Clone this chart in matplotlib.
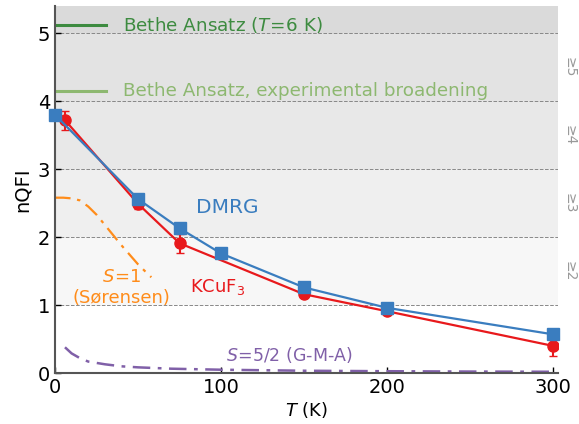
import numpy as np
import matplotlib.pyplot as plt

# DMRG
T_dmrg = [0, 50, 75, 100, 150, 200, 300]
nqfi_dmrg = [3.80, 2.56, 2.13, 1.76, 1.26, 0.96, 0.57]

# KCuF3 experiment
T_exp = [6, 50, 75, 150, 200, 300]
nqfi_exp = [3.72, 2.49, 1.91, 1.16, 0.91, 0.40]
err_exp = [0.14, 0.07, 0.14, 0.03, 0.03, 0.15]

# S=1 (Sorensen)
T_s1 = [0, 5, 10, 15, 20, 25, 30, 35, 40, 45, 50, 55, 58]
nqfi_s1 = [2.58, 2.58, 2.57, 2.54, 2.45, 2.33, 2.18, 2.03, 1.88, 1.74, 1.60, 1.48, 1.41]

# S=5/2 (G-M-A)
T_s52 = [6, 10, 15, 20, 30, 40, 50, 70, 100, 150, 200, 250, 300]
nqfi_s52 = [0.38, 0.29, 0.22, 0.17, 0.13, 0.10, 0.085, 0.065, 0.05, 0.035, 0.028, 0.023, 0.02]

# Bethe Ansatz levels
ba_6K = 5.12
ba_broad = 4.15

band_edges = [1, 2, 3, 4, 5, 5.4]
band_colors = ['#f7f7f7', '#efefef', '#e8e8e8', '#e3e3e3', '#dadada']
band_labels = ['≥2', '≥3', '≥4', '≥5']

fig, ax = plt.subplots(figsize=(5.79, 4.24), dpi=100)
fig.subplots_adjust(left=0.095, right=0.964, bottom=0.12, top=0.986)

for lo, hi, c in zip(band_edges[:-1], band_edges[1:], band_colors):
    ax.axhspan(lo, hi, color=c, lw=0, zorder=0)
for y in band_edges[:-1]:
    ax.axhline(y, color='#888888', ls='--', lw=0.7, zorder=1)
for lo, hi, lab in zip(band_edges[:-2], band_edges[1:-1], band_labels):
    ax.text(1.008, (lo + hi) / 2, lab, transform=ax.get_yaxis_transform(),
            rotation=-90, ha='left', va='center', fontsize=10, color='#999999')

ax.plot(T_s1, nqfi_s1, color='#ff8c1a', lw=1.6, zorder=2, dashes=(7, 3, 1.5, 3))
ax.plot(T_s52, nqfi_s52, color='#8060a8', lw=1.8, zorder=2, dashes=(7, 3, 1.5, 3))

ax.plot(T_dmrg, nqfi_dmrg, color='#3a7dbf', marker='s', ms=8.5, lw=1.6, zorder=4, clip_on=False)
ax.errorbar(T_exp, nqfi_exp, yerr=err_exp, color='#e8191c', marker='o', ms=8,
            lw=1.6, capsize=3, elinewidth=1.5, zorder=3)

ax.plot([0, 31], [ba_6K, ba_6K], color='#3d8b40', lw=2.2)
ax.plot([0, 31], [ba_broad, ba_broad], color='#8db870', lw=2.2)
ax.text(41, ba_6K, 'Bethe Ansatz ($T\\!=\\!6$ K)', color='#3d8b40', fontsize=13.2, va='center')
ax.text(41, ba_broad, 'Bethe Ansatz, experimental broadening', color='#8db870',
        fontsize=13.2, va='center')

ax.text(104, 2.43, 'DMRG', color='#3a7dbf', fontsize=14.5, ha='center', va='center')
ax.text(98, 1.27, 'KCuF$_3$', color='#e8191c', fontsize=13, ha='center', va='center')
ax.text(40, 1.41, '$S\\!=\\!1$', color='#ff8c1a', fontsize=13, ha='center', va='center')
ax.text(40, 1.1, '(Sørensen)', color='#ff8c1a', fontsize=13, ha='center', va='center')
ax.text(141, 0.27, '$S\\!=\\!5/2$ (G-M-A)', color='#8060a8', fontsize=12.5, ha='center', va='center')

ax.set_xlim(0, 303)
ax.set_ylim(0, 5.4)
ax.set_xticks([0, 100, 200, 300])
ax.set_yticks([0, 1, 2, 3, 4, 5])
ax.tick_params(direction='in', labelsize=14, length=4, width=1)
ax.set_xlabel('$T$ (K)', fontsize=13, labelpad=2)
ax.set_ylabel('nQFI', fontsize=14, labelpad=4)
for s in ['top', 'right']:
    ax.spines[s].set_visible(False)
for s in ['left', 'bottom']:
    ax.spines[s].set_color('#555555')
    ax.spines[s].set_linewidth(1.5)

fig.savefig('out.png', dpi=100)
